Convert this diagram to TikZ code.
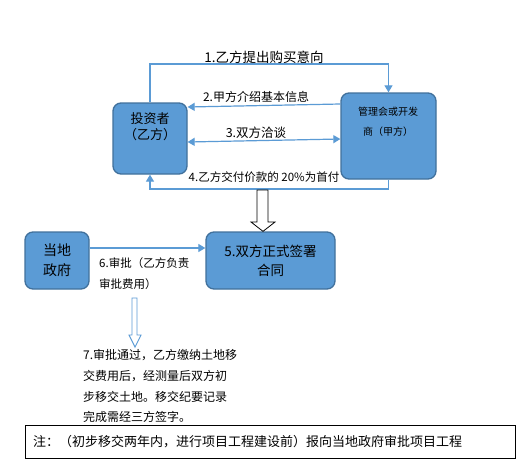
\documentclass[tikz,border=0pt]{standalone}
\usepackage{fontspec}
\setmainfont{Noto Sans CJK SC}
\usetikzlibrary{arrows.meta}
\definecolor{boxfill}{HTML}{5B9BD5}
\definecolor{boxline}{HTML}{41719C}
\definecolor{connc}{HTML}{5B9BD5}
\begin{document}
\begin{tikzpicture}[x=1pt,y=-1pt,
  box/.style={draw=boxline,line width=1.3pt,fill=boxfill,rounded corners=8pt,inner sep=0pt},
  conn/.style={draw=connc,line width=1.2pt},
  tip/.style={-{Triangle[width=8pt,length=7pt]}},
  dtip/.style={{Triangle[width=8pt,length=7pt]}-{Triangle[width=8pt,length=7pt]}},
  lbl/.style={inner sep=0pt,text=black},
  txt/.style={inner sep=0pt,text=black,align=center},
  seven/.style={inner sep=0pt,anchor=west,font=\fontsize{12}{14}\selectfont}
]
\fill[white] (0,0) rectangle (516,469);
\useasboundingbox (0,0) rectangle (516,469);
% boxes
\node[box,minimum width=74pt,minimum height=71pt] (inv) at (150,138.5) {};
\node[txt,font=\fontsize{13}{16}\selectfont] (invt) at (150,127) {投资者\\（乙方）};
\node[box,minimum width=95pt,minimum height=86pt] (mgr) at (388.5,136) {};
\node[txt,font=\fontsize{10}{20}\selectfont] (mgrt) at (388,122) {管理会或开发\\商（甲方）};
\node[box,minimum width=129pt,minimum height=57pt,txt,font=\fontsize{13.5}{19}\selectfont] (con) at (270.5,260.5) {5.双方正式签署\\合同};
\node[box,minimum width=64pt,minimum height=57pt,txt,font=\fontsize{14}{20}\selectfont] (gov) at (57,260.5) {当地\\政府};
% connectors
\draw[conn,tip] (inv.north) -- (inv.north |- 0,64) -| (mgr.north);
\node[lbl,font=\fontsize{13.5}{15}\selectfont] (l1) at (264,57) {1.乙方提出购买意向};
\draw[conn,tip] (mgr.west |- 0,104) -- (inv.east |- 0,107);
\node[lbl,font=\fontsize{12}{14}\selectfont] (l2) at (256,97) {2.甲方介绍基本信息};
\draw[conn,dtip] (inv.east |- 0,142) -- (mgr.west |- 0,139);
\node[lbl,font=\fontsize{12.5}{14}\selectfont] (l3) at (256,133) {3.双方洽谈};
\draw[conn,tip] (mgr.south) -- (mgr.south |- 0,189) -| (inv.south);
\node[lbl,font=\fontsize{11.5}{14}\selectfont] (l4) at (264,177) {4.乙方交付价款的 20\%为首付};
\draw[conn,tip] (gov.east |- 0,248) -- (con.west |- 0,248);
\node[lbl,anchor=west,font=\fontsize{11.5}{14}\selectfont] (l6a) at (99,263) {6.审批（乙方负责};
\node[lbl,anchor=west,font=\fontsize{11.5}{14}\selectfont] (l6b) at (99,284) {审批费用）};
% big hollow arrow
\coordinate (bigtip) at (con.north -| 263,0);
\draw[black,fill=white,line width=0.8pt,line join=miter] (257,190) -- (257,222) -- (251,222) -- (bigtip) -- (275,222) -- (268,222) -- (268,190) -- cycle;
% small hollow arrow
\coordinate (smalltip) at (135,347);
\draw[connc,fill=white,line width=0.9pt,line join=miter] (132,298) -- (132,335) -- (129,335) -- (smalltip) -- (141,335) -- (137,335) -- (137,298) -- cycle;
% text 7
\node[seven] (t7a) at (83,355) {7.审批通过，乙方缴纳土地移};
\node[seven] (t7b) at (83,376) {交费用后，经测量后双方初};
\node[seven] (t7c) at (83,397) {步移交土地。移交纪要记录};
\node[seven] (t7d) at (83,417) {完成需经三方签字。};
% note box
\node[draw=black,line width=0.9pt,minimum width=490pt,minimum height=33pt,inner sep=0pt] (note) at (270.5,441.5) {};
\node[lbl,anchor=west,font=\fontsize{13}{15}\selectfont] (notet) at (33,441.5) {注：（初步移交两年内，进行项目工程建设前）报向当地政府审批项目工程};
\end{tikzpicture}
\end{document}
